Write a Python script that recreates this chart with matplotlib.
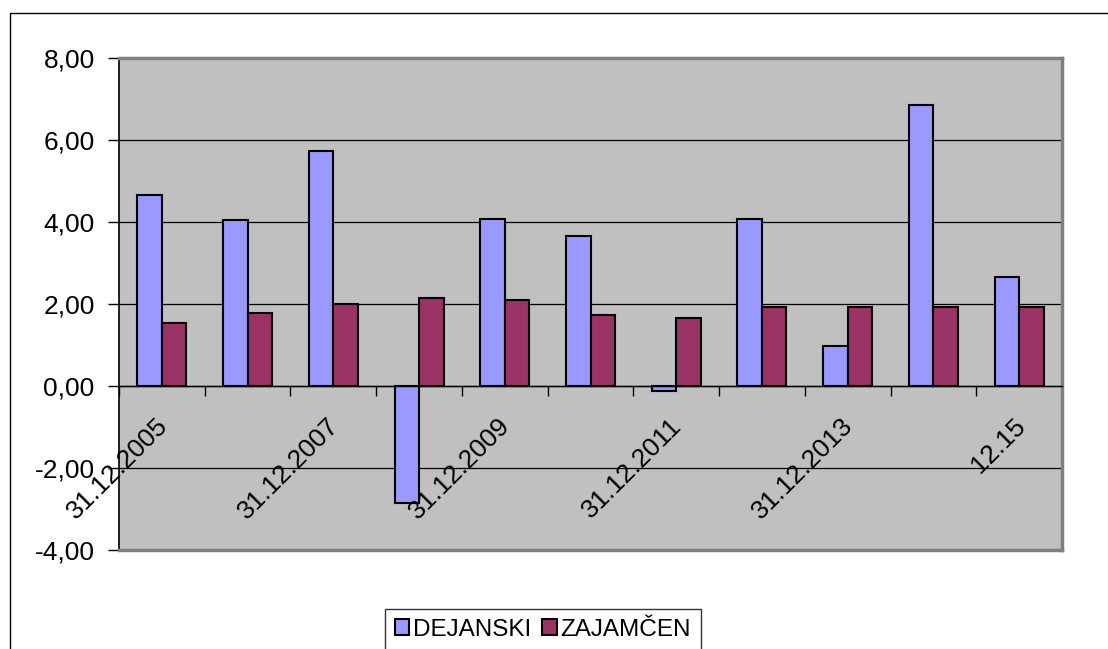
import matplotlib
matplotlib.use("Agg")
import matplotlib.pyplot as plt
import matplotlib.transforms as mtransforms
from matplotlib.patches import Rectangle
from matplotlib.ticker import FixedLocator, FuncFormatter
import numpy as np

plt.rcParams['font.family'] = ['Liberation Sans', 'DejaVu Sans']

# podaci po godinama (31.12.2005 - 31.12.2015)
godine = ['31.12.2005', '31.12.2006', '31.12.2007', '31.12.2008', '31.12.2009',
          '31.12.2010', '31.12.2011', '31.12.2012', '31.12.2013', '31.12.2014',
          '12.15']
dejanski = [4.65, 4.04, 5.74, -2.85, 4.08, 3.66, -0.12, 4.08, 0.98, 6.85, 2.67]
zajamcen = [1.54, 1.79, 1.99, 2.15, 2.10, 1.72, 1.67, 1.92, 1.92, 1.92, 1.92]

W, H = 1108, 649
fig = plt.figure(figsize=(W / 100, H / 100), dpi=100)
fig.patch.set_facecolor('white')

# okvir grafikona
fig.patches.append(Rectangle((10 / W, -0.2), 1.2, 1 - 13 / H + 0.2,
                             transform=fig.transFigure, fill=False,
                             edgecolor='black', lw=1.0))

ax = fig.add_axes([119 / W, 1 - 550 / H, (1062 - 119) / W, (550 - 58) / H])
ax.set_facecolor('#C0C0C0')

x = np.arange(len(godine))
bw = 0.286
ax.bar(x - bw / 2, dejanski, bw, color='#9999FF', edgecolor='black', lw=1.5,
       label='DEJANSKI', zorder=3)
ax.bar(x + bw / 2, zajamcen, bw, color='#993366', edgecolor='black', lw=1.5,
       label='ZAJAMČEN', zorder=3)

ax.set_xlim(-0.5, len(godine) - 0.5)
ax.set_ylim(-4, 8)
ax.set_yticks(np.arange(-4, 9, 2))
ax.yaxis.set_major_formatter(FuncFormatter(lambda v, p: f"{v:.2f}".replace('.', ',')))
ax.tick_params(axis='y', labelsize=19, length=8, width=1, pad=9.5, color='black')
ax.yaxis.grid(True, color='black', lw=0.9, zorder=1)

# os x prolazi kroz nulu
ax.spines['bottom'].set_position(('data', 0))
ax.spines['bottom'].set_color('black')
ax.spines['bottom'].set_linewidth(1.0)
ax.spines['bottom'].set_zorder(4)
ax.xaxis.set_major_locator(FixedLocator(np.arange(-0.5, len(godine), 1.0)))
ax.set_xticklabels([])
ax.tick_params(axis='x', direction='out', length=7, width=1, color='black')
ax.spines['left'].set_color('black')
ax.spines['left'].set_linewidth(1.2)
for s in ('top', 'right'):
    ax.spines[s].set_color('#808080')
    ax.spines[s].set_linewidth(2.5)

# dodatni donji rub (sjena)
ax.plot([-0.5, 10.5], [-4, -4], color='#808080', lw=2.5, clip_on=False, zorder=5)

# natpisi datuma, svaki drugi
off = mtransforms.offset_copy(ax.transData, fig=fig, x=2, y=-36, units='dots')
for i in range(0, len(godine), 2):
    ax.text(i, 0, godine[i], transform=off, rotation=45, rotation_mode='anchor',
            ha='right', va='center', fontsize=19, zorder=6)

leg = fig.legend(loc='upper left', bbox_to_anchor=(385 / W, 1 - 609 / H),
                 ncol=2, fontsize=17.5, frameon=True, fancybox=False,
                 handlelength=0.6, handleheight=0.6, handletextpad=0.15,
                 columnspacing=0.45, borderpad=0.4, borderaxespad=0)
leg.get_frame().set_edgecolor('black')
leg.get_frame().set_linewidth(1.0)

fig.savefig('out.png', dpi=100)
